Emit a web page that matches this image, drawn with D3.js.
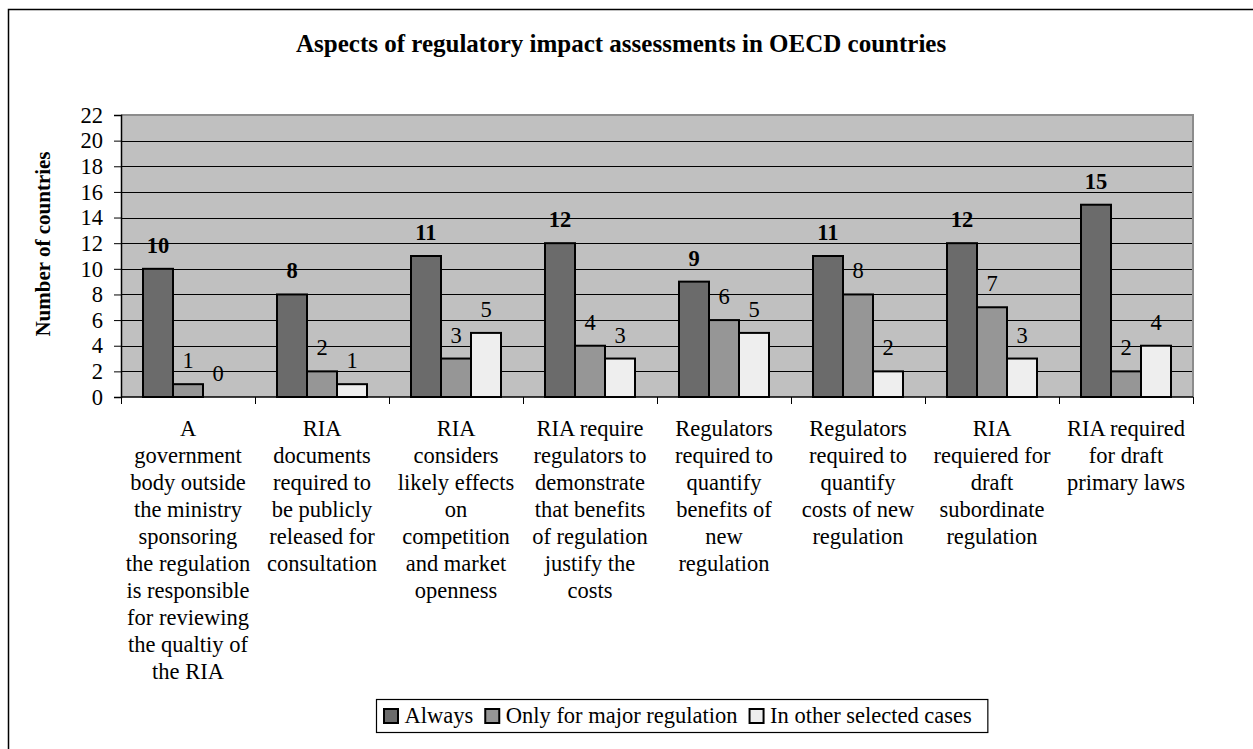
<!DOCTYPE html>
<html>
<head>
<meta charset="utf-8">
<script src="https://cdn.jsdelivr.net/npm/d3@7/dist/d3.min.js"></script>
<style>
  html, body { margin: 0; padding: 0; background: #fff; }
  svg { display: block; font-family: "Liberation Serif", "Times New Roman", serif; }
  svg text { font-family: "Liberation Serif", "Times New Roman", serif; }
</style>
</head>
<body>
<svg id="chart" width="1253" height="749"></svg>
<script>
// ---- data ----
const categories = [
  "A\ngovernment\nbody outside\nthe ministry\nsponsoring\nthe regulation\nis responsible\nfor reviewing\nthe qualtiy of\nthe RIA",
  "RIA\ndocuments\nrequired to\nbe publicly\nreleased for\nconsultation",
  "RIA\nconsiders\nlikely effects\non\ncompetition\nand market\nopenness",
  "RIA require\nregulators to\ndemonstrate\nthat benefits\nof regulation\njustify the\ncosts",
  "Regulators\nrequired to\nquantify\nbenefits of\nnew\nregulation",
  "Regulators\nrequired to\nquantify\ncosts of new\nregulation",
  "RIA\nrequiered for\ndraft\nsubordinate\nregulation",
  "RIA required\nfor draft\nprimary laws"
];
const seriesNames = ["Always", "Only for major regulation", "In other selected cases"];
const always = [10, 8, 11, 12, 9, 11, 12, 15];
const major  = [1, 2, 3, 4, 6, 8, 7, 2];
const other  = [0, 1, 5, 3, 5, 2, 3, 4];
const yTicks = [0, 2, 4, 6, 8, 10, 12, 14, 16, 18, 20, 22];
const titleText = "Aspects of regulatory impact assessments in OECD countries";
const yTitle = "Number of countries";

const seriesValues = [always, major, other];
const colors = ["#6b6b6b", "#969696", "#eeeeee"];
const FS = 22.5;

const svg = d3.select("#chart");
const plot = { left: 121, right: 1193, top: 115, bottom: 397 };

// outer frame (cropped on right/bottom)
svg.append("rect").attr("x", 8.5).attr("y", 9.5).attr("width", 1400).attr("height", 900)
  .attr("fill", "none").attr("stroke", "#000").attr("stroke-width", 1.5);

// title
svg.append("text").attr("x", 296).attr("y", 52)
  .attr("font-size", 25).attr("font-weight", "bold").attr("fill", "#000")
  .text(titleText);

const x0 = d3.scaleBand().domain(d3.range(categories.length)).range([plot.left, plot.right]).padding(0);
const x1 = d3.scaleBand().domain(d3.range(seriesNames.length)).range([0, x0.bandwidth()])
  .paddingInner(0).paddingOuter(22 / 30);
const y = d3.scaleLinear().domain([0, 22]).range([plot.bottom, plot.top]);

// plot background
svg.append("rect").attr("x", plot.left).attr("y", plot.top)
  .attr("width", plot.right - plot.left).attr("height", plot.bottom - plot.top)
  .attr("fill", "#c0c0c0");

// gridlines
svg.append("g").selectAll("line").data(yTicks.filter(t => t > 0 && t < 22)).join("line")
  .attr("x1", plot.left).attr("x2", plot.right)
  .attr("y1", d => Math.round(y(d)) + 0.5).attr("y2", d => Math.round(y(d)) + 0.5)
  .attr("stroke", "#000").attr("stroke-width", 1);

// plot border top/right (gray)
svg.append("path")
  .attr("d", `M${plot.left},${plot.top} H${plot.right} V${plot.bottom}`)
  .attr("fill", "none").attr("stroke", "#8c8c8c").attr("stroke-width", 2);

// bars
const groups = svg.append("g").selectAll("g").data(categories).join("g")
  .attr("transform", (d, i) => `translate(${x0(i)},0)`);

groups.each(function (c, i) {
  const g = d3.select(this);
  seriesValues.forEach((vals, s) => {
    const v = vals[i];
    if (v > 0) {
      g.append("rect")
        .attr("x", x1(s)).attr("y", y(v))
        .attr("width", x1.bandwidth()).attr("height", y(0) - y(v))
        .attr("fill", colors[s]).attr("stroke", "#000").attr("stroke-width", 2);
    }
    g.append("text")
      .attr("x", x1(s) + x1.bandwidth() / 2).attr("y", y(v) - 16)
      .attr("text-anchor", "middle").attr("font-size", FS)
      .attr("font-weight", s === 0 ? "bold" : "normal")
      .attr("fill", "#000")
      .text(v);
  });
});

// y axis
const yAxis = d3.axisLeft(y).tickValues(yTicks).tickSize(7).tickPadding(11);
const yg = svg.append("g").attr("transform", `translate(${plot.left},0)`).call(yAxis)
  .attr("font-family", null).attr("font-size", null);
yg.select(".domain").attr("stroke", "#000").attr("stroke-width", 1.5);
yg.selectAll(".tick line").attr("stroke", "#000");
yg.selectAll(".tick text").attr("font-size", FS).attr("fill", "#000");

// x axis line + ticks at category boundaries
svg.append("line").attr("x1", plot.left).attr("x2", plot.right)
  .attr("y1", plot.bottom).attr("y2", plot.bottom)
  .attr("stroke", "#000").attr("stroke-width", 1.5);
const bounds = d3.range(categories.length + 1).map(i => plot.left + i * x0.step());
svg.append("g").selectAll("line").data(bounds).join("line")
  .attr("x1", d => Math.round(d) + 0.5).attr("x2", d => Math.round(d) + 0.5)
  .attr("y1", plot.bottom).attr("y2", plot.bottom + 7)
  .attr("stroke", "#000").attr("stroke-width", 1);

// category labels
const catG = svg.append("g");
categories.forEach((c, i) => {
  const cx = x0(i) + x0.bandwidth() / 2;
  const t = catG.append("text")
    .attr("x", cx).attr("y", 436)
    .attr("text-anchor", "middle").attr("font-size", FS).attr("fill", "#000");
  c.split("\n").forEach((line, k) => {
    t.append("tspan").attr("x", cx).attr("dy", k === 0 ? 0 : 27).text(line);
  });
});

// y axis title
svg.append("text")
  .attr("transform", `translate(50,244) rotate(-90)`)
  .attr("text-anchor", "middle").attr("font-size", 21).attr("font-weight", "bold")
  .attr("fill", "#000").text(yTitle);

// legend
const leg = svg.append("g");
const legBox = leg.append("rect").attr("y", 699.5).attr("height", 33)
  .attr("fill", "#fff").attr("stroke", "#000").attr("stroke-width", 1.2);
let lx = 384;
seriesNames.forEach((name, s) => {
  leg.append("rect").attr("x", lx).attr("y", 709).attr("width", 14).attr("height", 14)
    .attr("fill", colors[s]).attr("stroke", "#000").attr("stroke-width", 2);
  const t = leg.append("text").attr("x", lx + 20.5).attr("y", 723)
    .attr("font-size", FS).attr("fill", "#000").text(name);
  const w = t.node().getComputedTextLength();
  lx = lx + 20.5 + w + (s < seriesNames.length - 1 ? 12 : 16);
});
legBox.attr("x", 376.5).attr("width", lx - 376.5);
</script>
</body>
</html>
